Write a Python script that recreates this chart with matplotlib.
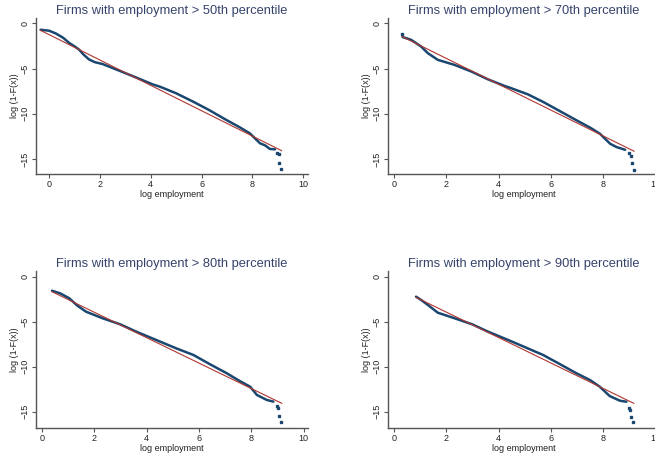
import matplotlib
matplotlib.use("Agg")
import matplotlib.pyplot as plt

plt.rcParams["font.family"] = ["Liberation Sans", "DejaVu Sans"]

NAVY = "#1a476f"
MAROON = "#b0352f"
TITLE_C = "#36436b"
AXIS_C = "#555555"

titles = [
    "Firms with employment > 50th percentile",
    "Firms with employment > 70th percentile",
    "Firms with employment > 80th percentile",
    "Firms with employment > 90th percentile",
]

# connected part of the empirical curve (log employment, log(1-F(x)))
p50_x = [-0.34, 0.0, 0.26, 0.55, 0.79, 1.0, 1.18, 1.35, 1.57, 1.8, 2.1, 2.76, 3.41,
         4.07, 4.36, 4.99, 5.67, 6.3, 6.98, 7.5, 7.90, 8.10, 8.30, 8.50, 8.69, 8.89]
p50_y = [-0.71, -0.82, -1.12, -1.6, -2.18, -2.55, -2.92, -3.45, -4.0, -4.3, -4.5, -5.24, -5.98,
         -6.75, -7.01, -7.73, -8.67, -9.6, -10.70, -11.5, -12.17, -12.72, -13.27, -13.5, -13.9, -13.94]
p50_tail_x = [8.98, 9.03, 9.06, 9.12]
p50_tail_y = [-14.38, -14.5, -15.42, -16.12]
p50_fit_x = [-0.34, 9.15]
p50_fit_y = [-0.78, -14.09]

p70_x = [0.34, 0.66, 1.04, 1.30, 1.68, 2.32, 2.96, 3.59, 4.23, 4.43, 5.12, 5.71, 6.3,
         6.98, 7.5, 7.87, 8.26, 8.51, 8.83]
p70_y = [-1.52, -1.82, -2.56, -3.3, -4.04, -4.6, -5.33, -6.19, -6.93, -7.12, -7.86, -8.71, -9.65,
         -10.74, -11.55, -12.22, -13.33, -13.7, -13.99]
p70_tail_x = [0.31, 8.96, 9.05, 9.09, 9.15]
p70_tail_y = [-1.15, -14.37, -14.63, -15.48, -16.19]
p70_fit_x = [0.31, 9.17]
p70_fit_y = [-1.45, -14.15]

p80_x = [0.39, 0.7, 1.05, 1.35, 1.69, 2.32, 3.0, 3.60, 4.52, 5.13, 5.79, 6.4,
         7.06, 7.5, 7.95, 8.21, 8.59, 8.84]
p80_y = [-1.56, -1.85, -2.4, -3.2, -3.89, -4.62, -5.3, -6.1, -7.22, -7.96, -8.7, -9.7,
         -10.73, -11.5, -12.22, -13.14, -13.7, -13.88]
p80_tail_x = [8.97, 9.02, 9.07, 9.13]
p80_tail_y = [-14.37, -14.55, -15.44, -16.14]
p80_fit_x = [0.39, 9.16]
p80_fit_y = [-1.67, -14.07]

p90_x = [0.85, 1.05, 1.30, 1.68, 2.32, 3.0, 3.59, 4.43, 5.11, 5.70, 6.3,
         6.97, 7.5, 7.86, 8.24, 8.63, 8.88]
p90_y = [-2.22, -2.6, -3.14, -4.0, -4.62, -5.3, -6.1, -7.11, -7.96, -8.7, -9.65,
         -10.73, -11.5, -12.22, -13.26, -13.78, -13.89]
p90_tail_x = [8.98, 9.03, 9.07, 9.13]
p90_tail_y = [-14.59, -14.8, -15.56, -16.14]
p90_fit_x = [0.85, 9.16]
p90_fit_y = [-2.3, -14.07]

panels = [
    (p50_x, p50_y, p50_tail_x, p50_tail_y, p50_fit_x, p50_fit_y),
    (p70_x, p70_y, p70_tail_x, p70_tail_y, p70_fit_x, p70_fit_y),
    (p80_x, p80_y, p80_tail_x, p80_tail_y, p80_fit_x, p80_fit_y),
    (p90_x, p90_y, p90_tail_x, p90_tail_y, p90_fit_x, p90_fit_y),
]

W, H = 655, 458
# axes boxes in pixels: left, top, right, bottom
boxes = [
    (36, 18, 308, 174),
    (388, 18, 660, 174),
    (36, 271, 308, 428),
    (388, 271, 660, 428),
]
xlims = [(-0.52, 10.19), (-0.22, 10.16), (-0.22, 10.16), (-0.22, 10.16)]
ylims = [(-16.67, 0.59), (-16.67, 0.59), (-16.81, 0.63), (-16.81, 0.63)]

fig = plt.figure(figsize=(W / 100, H / 100), dpi=100)

for i, (bx, (cx, cy, tx, ty, fx, fy)) in enumerate(zip(boxes, panels)):
    l, t, r, b = bx
    ax = fig.add_axes([l / W, 1 - b / H, (r - l) / W, (b - t) / H])
    ax.plot(cx, cy, color=NAVY, lw=1.8, solid_capstyle="round",
            solid_joinstyle="round", zorder=2)
    ax.plot(tx, ty, color=NAVY, ls="none", marker="s", ms=1.7, zorder=2)
    ax.plot(fx, fy, color=MAROON, lw=0.8, zorder=3)

    ax.set_xlim(*xlims[i])
    ax.set_ylim(*ylims[i])
    ax.set_xticks([0, 2, 4, 6, 8, 10])
    ax.set_yticks([0, -5, -10, -15])
    ax.spines["top"].set_visible(False)
    ax.spines["right"].set_visible(False)
    for s in ("left", "bottom"):
        ax.spines[s].set_color(AXIS_C)
        ax.spines[s].set_linewidth(1.0)
    ax.tick_params(axis="both", length=3, width=0.8, color=AXIS_C,
                   labelsize=6.5, pad=1.5, labelcolor="#222222")
    for lab in ax.get_yticklabels():
        lab.set_rotation(90)
        lab.set_va("center")
    ax.set_xlabel("log employment", fontsize=6.5, labelpad=0.5, color="#222222")
    ax.set_ylabel("log (1-F(x))", fontsize=6.5, labelpad=1, color="#222222")
    ax.set_title(titles[i], fontsize=9.3, color=TITLE_C, pad=3)

fig.savefig("out.png", dpi=100)
